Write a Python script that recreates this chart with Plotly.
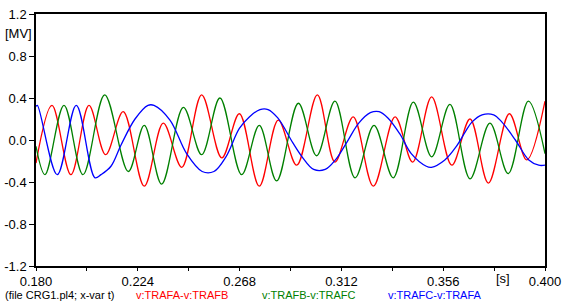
import plotly.graph_objects as go

# ---- data (time in s, voltage in MV) ----
t_ab = [0.1800, 0.1869, 0.1951, 0.2029, 0.2101, 0.2177, 0.2268, 0.2350, 0.2430,
        0.2516, 0.2603, 0.2679, 0.2765, 0.2847, 0.2927, 0.3016, 0.3092, 0.3171,
        0.3258, 0.3352, 0.3428, 0.3510, 0.3597, 0.3676, 0.3755, 0.3846, 0.3921, 0.4000]
v_ab = [-0.22, 0.33, -0.33, 0.33, -0.14, 0.27, -0.44, 0.16, -0.26,
        0.43, -0.17, 0.25, -0.44, 0.19, -0.24, 0.43, -0.21, 0.22,
        -0.44, 0.22, -0.21, 0.41, -0.24, 0.20, -0.41, 0.25, -0.19, 0.37]

t_bc = [0.1800, 0.1839, 0.1921, 0.2003, 0.2097, 0.2199, 0.2268, 0.2343, 0.2437,
        0.2516, 0.2595, 0.2689, 0.2765, 0.2840, 0.2934, 0.3013, 0.3092, 0.3179,
        0.3261, 0.3344, 0.3431, 0.3510, 0.3589, 0.3676, 0.3762, 0.3841, 0.3928, 0.4000]
v_bc = [-0.06, -0.33, 0.33, -0.33, 0.43, -0.30, 0.14, -0.42, 0.31,
        -0.14, 0.40, -0.33, 0.14, -0.39, 0.35, -0.15, 0.37, -0.36,
        0.14, -0.36, 0.36, -0.16, 0.34, -0.37, 0.16, -0.32, 0.37, -0.13]

t_ca = [0.1800, 0.1806, 0.1892, 0.1974, 0.2055, 0.2081, 0.2124, 0.2167, 0.2228,
        0.2284, 0.2310, 0.2379, 0.2451, 0.2518, 0.2569, 0.2621, 0.2679, 0.2722,
        0.2768, 0.2803, 0.2845, 0.2911, 0.2950, 0.3000, 0.3050, 0.3094, 0.3144,
        0.3195, 0.3245, 0.3283, 0.3321, 0.3372, 0.3422, 0.3487, 0.3509, 0.3567,
        0.3617, 0.3656, 0.3684, 0.3728, 0.3778, 0.3814, 0.3872, 0.3930, 0.3973, 0.4000]
v_ca = [0.32, 0.33, -0.33, 0.33, -0.36, -0.33, -0.25, -0.05, 0.20,
        0.33, 0.33, 0.19, -0.13, -0.30, -0.30, -0.16, 0.11, 0.22,
        0.29, 0.29, 0.21, -0.03, -0.16, -0.28, -0.28, -0.19, -0.02,
        0.16, 0.26, 0.27, 0.21, 0.06, -0.13, -0.25, -0.26, -0.19,
        -0.06, 0.08, 0.17, 0.24, 0.24, 0.17, 0.00, -0.19, -0.24, -0.24]

x_ticks = [0.180, 0.224, 0.268, 0.312, 0.356, 0.400]
x_tick_labels = ["0.180", "0.224", "0.268", "0.312", "0.356", "0.400"]
y_ticks = [1.2, 0.8, 0.4, 0.0, -0.4, -0.8, -1.2]
y_tick_labels = ["1.2", "0.8", "0.4", "0.0", "-0.4", "-0.8", "-1.2"]

series_names = ["v:TRAFA-v:TRAFB", "v:TRAFB-v:TRAFC", "v:TRAFC-v:TRAFA"]
series_colors = ["#ff0000", "#008000", "#0000ff"]

FONT = "Liberation Sans, Arial, sans-serif"

fig = go.Figure()
for t, v, name, col in zip([t_ab, t_bc, t_ca], [v_ab, v_bc, v_ca], series_names, series_colors):
    fig.add_trace(go.Scatter(x=t, y=v, mode="lines", name=name,
                             line=dict(color=col, width=1.3, shape="spline", smoothing=1.0),
                             showlegend=False))

fig.update_layout(
    width=567, height=302,
    margin=dict(l=36, r=22, t=14, b=36, autoexpand=False),
    paper_bgcolor="white", plot_bgcolor="white",
    font=dict(family=FONT, size=13, color="black"),
)
fig.update_xaxes(range=[0.18, 0.40], tickvals=x_ticks, ticktext=x_tick_labels,
                 automargin=False,
                 showgrid=False, zeroline=False, showline=True, linecolor="black",
                 linewidth=1.5, mirror=True, ticks="outside", ticklen=3, tickcolor="black",
                 minor=dict(ticks="outside", ticklen=3, dtick=0.022, tick0=0.18, tickcolor="black"),
                 ticklabelstandoff=0,
                 tickfont=dict(size=13))
fig.update_yaxes(range=[-1.2, 1.2], tickvals=y_ticks, ticktext=y_tick_labels,
                 automargin=False,
                 showgrid=False, zeroline=False, showline=True, linecolor="black",
                 linewidth=1.5, mirror=True, ticks="outside", ticklen=5, tickcolor="black",
                 ticklabelstandoff=0,
                 tickfont=dict(size=13))

ann = [
    dict(text="[MV]", x=-0.0334, y=0.921, xanchor="center", yanchor="middle", font=dict(size=13)),
    dict(text="[s]", x=0.9175, y=-0.048, xanchor="center", yanchor="middle", font=dict(size=13)),
    dict(text="(file CRG1.pl4; x-var t)", x=-0.0648, y=-0.117, xanchor="left", yanchor="middle",
         font=dict(size=11, color="black")),
]
legend_x = [0.1935, 0.4401, 0.6876]
for nm, col, lx in zip(series_names, series_colors, legend_x):
    ann.append(dict(text=nm, x=lx, y=-0.117, xanchor="left", yanchor="middle",
                    font=dict(size=11, color=col)))
for a in ann:
    a.update(xref="paper", yref="paper", showarrow=False)
    fig.add_annotation(**a)

fig.write_html("out.html", config={"displayModeBar": False},
               post_script="document.body.style.margin='0';")
